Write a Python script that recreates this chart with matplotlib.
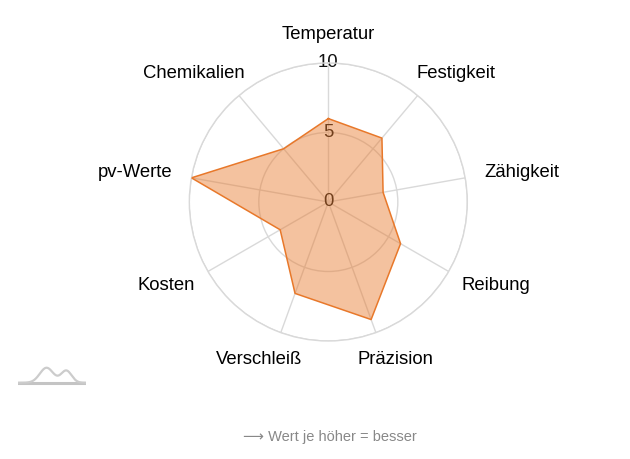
import numpy as np
import matplotlib
matplotlib.use('Agg')
import matplotlib.pyplot as plt

plt.rcParams['font.family'] = ['Liberation Sans', 'DejaVu Sans']

labels = ['Temperatur', 'Festigkeit', 'Zähigkeit', 'Reibung', 'Präzision',
          'Verschleiß', 'Kosten', 'pv-Werte', 'Chemikalien']
values = [6, 6, 4, 6, 9, 7, 4, 10, 5]
r_ticks = [0, 5, 10]
note = '\u27f6 Wert je höher = besser'

line_col = '#e8782a'
grid_col = '#d9d9d9'

fig = plt.figure(figsize=(6.3, 4.59), dpi=100)
ax = fig.add_axes([0.3005, 0.2571, 0.4413, 0.6057], projection='polar')
ax.set_theta_zero_location('N')
ax.set_theta_direction(-1)
ax.set_axisbelow(True)

n = len(labels)
ang = np.arange(n) * 2 * np.pi / n
ang_c = np.append(ang, ang[0])
val_c = np.append(values, values[0])

ax.fill(ang_c, val_c, color=line_col, alpha=0.45, lw=0, zorder=2)
ax.plot(ang_c, val_c, color=line_col, lw=1.1, zorder=3)

ax.set_ylim(0, 10)
ax.set_yticks([5, 10])
ax.set_yticklabels([])
ax.set_xticks(ang)
ax.set_xticklabels([])
ax.grid(True, color=grid_col, lw=1)
ax.spines['polar'].set_color(grid_col)
ax.spines['polar'].set_linewidth(1)
ax.tick_params(length=0)

# r labels sit under the fill, like in the original
for v in r_ticks:
    ax.text(0, v, str(v), ha='center', va='center', fontsize=13.3,
            color='#111111', zorder=1)

# category labels: pushed out from the rim, alignment follows the angle
rend = fig.canvas.get_renderer()
pad = 20
for a, lab in zip(ang, labels):
    t = ax.annotate(lab, xy=(a, 10), xytext=(0, 0), textcoords='offset pixels',
                    ha='center', va='center', fontsize=13.3, color='black',
                    annotation_clip=False)
    bb = t.get_window_extent(rend)
    c, s = np.sin(a), np.cos(a)
    t.set_position((c * (pad + bb.width / 2), s * (pad + bb.height / 2)))

# small logo bottom left
lax = fig.add_axes([18 / 630, 1 - 386 / 459, 68 / 630, 22 / 459])
lx = np.linspace(0, 1, 300)
bump = 0.15 + 0.68 * np.exp(-((lx - 0.42) / 0.14) ** 2) + 0.55 * np.exp(-((lx - 0.71) / 0.11) ** 2)
lax.plot([0, 1], [0.15, 0.15], color='#c4c4c4', lw=2.2)
lax.plot(lx, bump, color='#cccccc', lw=1.6)
lax.set_xlim(0, 1)
lax.set_ylim(0, 1)
lax.axis('off')

fig.text(330 / 630, 1 - 437 / 459, note, ha='center', va='center',
         fontsize=10.5, color='#888888')

fig.savefig('out.png', dpi=100)
